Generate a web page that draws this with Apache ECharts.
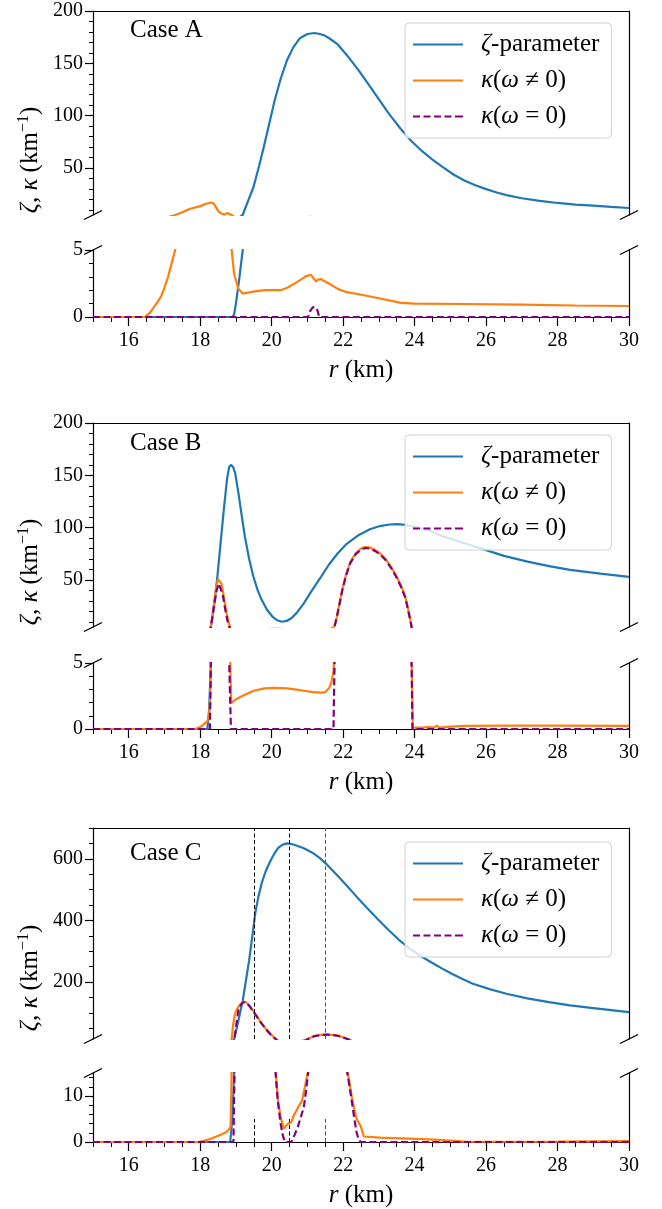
<!DOCTYPE html>
<html><head><meta charset="utf-8">
<script src="https://cdn.jsdelivr.net/npm/echarts@6/dist/echarts.min.js"></script>
<style>html,body{margin:0;padding:0;background:#fff}#c{width:662px;height:1209px}</style>
</head><body><div id="c"></div>
<script>
// ---------- tick values ----------
const xMajor = [16, 18, 20, 22, 24, 26, 28, 30];
const xMinor = [15, 15.5, 16.5, 17, 17.5, 18.5, 19, 19.5, 20.5, 21, 21.5, 22.5, 23, 23.5, 24.5, 25, 25.5, 26.5, 27, 27.5, 28.5, 29, 29.5];
const yMajorAB = [50, 100, 150, 200];
const yMinorAB = [10, 20, 30, 40, 60, 70, 80, 90, 110, 120, 130, 140, 160, 170, 180, 190];
const yLowMajorAB = [0, 5];
const yLowMinorAB = [1, 2, 3, 4];
const yMajorC = [200, 400, 600];
const yMinorC = [50, 100, 150, 250, 300, 350, 450, 500, 550, 650, 700];
const yLowMajorC = [0, 10];
const yLowMinorC = [2, 4, 6, 8, 12, 14];
const caseLabels = ['Case A', 'Case B', 'Case C'];
const vlinesC = [19.5, 20.5, 21.5];

// ---------- data: [r (km), value] ----------
const zetaA = [[15,0],[18.9,0],[18.95,0.2],[19.0,1.0],[19.1,3.0],[19.19,5],[19.3,15],[19.49,31.5],[19.65,52],[19.78,70],[19.93,92],[20.08,114],[20.25,135],[20.43,153],[20.6,165],[20.79,174],[21.0,178],[21.2,179],[21.35,178],[21.49,176.5],[21.65,173],[21.85,168],[22.1,158],[22.44,143],[22.75,128],[23.03,114],[23.3,101],[23.62,87],[23.9,76],[24.21,66],[24.5,58],[24.8,50.5],[25.1,43.5],[25.39,38],[25.7,33.5],[25.98,30],[26.3,26.5],[26.57,24],[27.0,21],[27.5,18.5],[28.0,16.5],[28.5,15],[29.0,14],[29.5,12.8],[30,11.7]];
const kappaA = [[15,0],[16.45,0],[16.6,0.35],[16.75,0.9],[16.9,1.5],[17.0,2.2],[17.1,3.0],[17.2,4.0],[17.3,5.0],[17.45,7],[17.7,10.7],[18.0,13.5],[18.15,15.5],[18.3,17],[18.38,16],[18.45,12],[18.52,8],[18.6,6.5],[18.68,5.3],[18.75,6.8],[18.82,6],[18.88,5],[18.95,3.2],[19.07,2.1],[19.19,1.75],[19.49,1.9],[19.8,2.0],[20.25,2.0],[20.45,2.2],[20.67,2.55],[20.85,2.85],[20.96,3.05],[21.1,3.15],[21.15,3.25],[21.24,2.65],[21.3,2.8],[21.38,2.82],[21.6,2.5],[21.85,2.1],[22.1,1.85],[22.44,1.7],[23.0,1.4],[23.62,1.05],[24.0,1.0],[25.4,0.97],[27.0,0.92],[28.5,0.86],[30,0.82]];
const kappa0A = [[15,0],[21.02,0],[21.08,0.45],[21.15,0.72],[21.22,0.75],[21.28,0.5],[21.33,0],[30,0]];

const zetaB = [[15,0],[18.2,0],[18.25,1.5],[18.3,5],[18.4,28],[18.48,53],[18.57,85],[18.66,117],[18.75,146],[18.81,158],[18.86,160],[18.92,158],[18.98,152],[19.07,133],[19.16,112],[19.25,91.5],[19.37,70],[19.49,53],[19.6,41],[19.72,31],[19.87,21.5],[20.02,15],[20.15,11.5],[20.29,10],[20.42,10.8],[20.55,13.3],[20.7,18.5],[20.9,27.6],[21.1,38.5],[21.38,53],[21.6,64.5],[21.85,75.5],[22.1,84.5],[22.44,93],[22.75,98.5],[23.03,101.5],[23.3,103],[23.5,103.3],[23.75,102.6],[23.97,101],[24.4,97.5],[24.8,91.5],[25.4,85],[25.98,78.7],[26.5,73],[27.16,67.5],[27.8,63],[28.35,59.6],[29.2,56],[30,53]];
const kappaB = [[15,0],[17.85,0],[18.0,0.15],[18.1,0.35],[18.2,0.6],[18.25,0.9],[18.28,2.5],[18.32,10],[18.38,26],[18.44,42],[18.5,51],[18.55,52],[18.6,46],[18.67,32],[18.74,18],[18.8,9],[18.85,4],[18.87,1.95],[19.0,2.25],[19.25,2.6],[19.5,2.9],[19.8,3.08],[20.1,3.12],[20.43,3.08],[20.7,2.98],[20.9,2.9],[21.15,2.8],[21.38,2.75],[21.5,2.8],[21.61,3.1],[21.68,3.6],[21.73,4.4],[21.76,6],[21.82,14],[21.9,28],[21.97,40],[22.08,55],[22.2,67],[22.35,75.5],[22.5,80],[22.62,81.5],[22.75,81],[22.9,78.5],[23.03,75.5],[23.2,69.5],[23.35,62],[23.5,53],[23.62,44.5],[23.74,34],[23.82,22],[23.88,12],[23.92,5],[23.95,0.1],[24.2,0.1],[24.4,0.15],[24.55,0.12],[24.62,0.25],[24.7,0.1],[25.0,0.18],[25.4,0.24],[26.5,0.25],[28,0.26],[30,0.24]];
const kappa0B = [[15,0],[18.27,0],[18.29,3],[18.33,12],[18.4,28],[18.46,40],[18.52,46.5],[18.57,45],[18.63,36],[18.7,22],[18.77,10],[18.83,3],[18.86,0],[21.73,0],[21.76,5],[21.82,14],[21.9,27],[21.97,39],[22.08,54],[22.2,66],[22.35,74.5],[22.5,79],[22.62,80.5],[22.75,80],[22.9,77.5],[23.03,74.5],[23.2,68.5],[23.35,61],[23.5,52],[23.62,43.5],[23.74,33],[23.82,21],[23.88,11],[23.92,4],[23.94,0],[30,0]];

const zetaC = [[15,0],[18.84,0],[18.9,5],[18.95,15],[19.07,75],[19.19,140],[19.28,205],[19.37,271],[19.46,350],[19.54,423],[19.63,478],[19.72,521],[19.84,562],[19.96,592],[20.08,618],[20.19,636],[20.31,646],[20.43,650],[20.55,648],[20.67,644],[20.9,634],[21.14,620],[21.35,602],[21.55,581],[21.8,551],[22.08,516],[22.37,478],[22.67,440],[22.97,404],[23.27,369],[23.56,337],[23.86,309],[24.15,286],[24.45,265],[24.75,245],[25.04,227],[25.34,210],[25.63,194.5],[26.1,177],[26.57,162],[27.15,147],[27.76,134.6],[28.35,124],[28.94,116],[29.5,109],[30,102]];
const kappaC = [[15,0],[17.95,0],[18.1,0.25],[18.3,0.7],[18.54,1.45],[18.7,2.0],[18.78,2.5],[18.85,3.3],[18.88,15],[18.92,60],[18.97,95],[19.01,107],[19.1,125],[19.22,137],[19.3,133],[19.37,124],[19.48,106],[19.6,86],[19.72,66],[19.84,47.4],[19.96,32],[20.08,19],[20.17,9.5],[20.25,5.4],[20.34,2.9],[20.42,3.7],[20.49,4.1],[20.55,4.3],[20.62,5.8],[20.67,6.5],[20.76,7.8],[20.85,9],[20.93,12],[21.02,15.5],[21.2,25],[21.38,28.5],[21.55,29.5],[21.7,28.5],[21.85,26],[22.0,20.5],[22.13,15],[22.25,9.5],[22.33,6.5],[22.38,5],[22.45,4],[22.5,3.3],[22.58,1.2],[23.03,0.95],[24.03,0.7],[24.7,0.45],[25.4,0.1],[26.5,0.05],[28,0.1],[30,0.2]];
const kappa0C = [[15,0],[18.93,0],[18.96,15],[19.02,70],[19.07,110],[19.15,128],[19.22,135],[19.3,132],[19.37,123],[19.48,105],[19.6,85],[19.72,65],[19.84,46.5],[19.96,31],[20.08,18],[20.17,9],[20.25,4],[20.31,1.5],[20.37,0],[20.55,0],[20.64,1.5],[20.73,3.3],[20.82,5.5],[20.9,7.6],[20.96,11],[21.02,15],[21.2,24.5],[21.38,28],[21.55,29],[21.7,28],[21.85,25.5],[22.0,20],[22.14,14],[22.24,9],[22.32,4.7],[22.38,2],[22.44,0.4],[22.5,0],[30,0]];

// ---------- layout ----------
const FONT = '"Liberation Serif", "DejaVu Serif", serif';
const BIG = 25;
const L = 93, R = 629, W = R - L;
const panels = [
  {uTop: 11,  uH: 204, lTop: 250,  lH: 67, uMin: 5,  uMax: 200, lMax: 5,  uMaj: yMajorAB, uMinT: yMinorAB, lMaj: yLowMajorAB, lMinT: yLowMinorAB, zeta: zetaA, k: kappaA, k0: kappa0A, caseY: 30, legTop: 23, ylabY: 160},
  {uTop: 423, uH: 204, lTop: 663,  lH: 66, uMin: 5,  uMax: 200, lMax: 5,  uMaj: yMajorAB, uMinT: yMinorAB, lMaj: yLowMajorAB, lMinT: yLowMinorAB, zeta: zetaB, k: kappaB, k0: kappa0B, caseY: 443, legTop: 435, ylabY: 572},
  {uTop: 828, uH: 211, lTop: 1073, lH: 69, uMin: 15, uMax: 700, lMax: 15, uMaj: yMajorC, uMinT: yMinorC, lMaj: yLowMajorC, lMinT: yLowMinorC, zeta: zetaC, k: kappaC, k0: kappa0C, caseY: 853, legTop: 842, ylabY: 978}
];

const BLUE = '#1f77b4', ORANGE = '#ff7f0e', PURPLE = '#800080';
const LW = 2.2;
const blk = {color: '#000', width: 1.2};
const lblStyle = {fontSize: 20, fontFamily: FONT, color: '#000'};

const opt = {animation: false, grid: [], xAxis: [], yAxis: [], series: [], legend: [], graphic: []};

function yPair(grid, min, max, maj, minT) {
  const idx = opt.yAxis.length;
  opt.yAxis.push({gridIndex: grid, type: 'value', position: 'left', min, max,
    axisLine: {show: true, onZero: false, lineStyle: blk},
    axisTick: {show: true, customValues: maj, length: 8, lineStyle: blk},
    axisLabel: Object.assign({customValues: maj, margin: 10}, lblStyle),
    splitLine: {show: false}});
  opt.yAxis.push({gridIndex: grid, type: 'value', position: 'left', min, max,
    axisLine: {show: false}, axisTick: {show: true, customValues: minT, length: 4, lineStyle: {color: '#000', width: 1}},
    axisLabel: {show: false}, splitLine: {show: false}});
  opt.yAxis.push({gridIndex: grid, type: 'value', position: 'right', min, max,
    axisLine: {show: true, onZero: false, lineStyle: blk}, axisTick: {show: false},
    axisLabel: {show: false}, splitLine: {show: false}});
  return idx;
}

const legendNames = ['zeta', 'kneq', 'keq'];
const legendText = {
  zeta: '{it|ζ}-parameter',
  kneq: '{it|κ}({it|ω} ≠ 0)',
  keq: '{it|κ}({it|ω} = 0)'
};
const solidIcon = 'path://M0,0H50V2.2H0Z';
const dashIcon = 'path://M0,0h7v2.2h-7zM10.5,0h7v2.2h-7zM21,0h7v2.2h-7zM31.5,0h7v2.2h-7zM42,0h8v2.2h-8z';

panels.forEach((p, i) => {
  const gu = opt.grid.length;
  opt.grid.push({left: L, top: p.uTop, width: W, height: p.uH});
  const gl = gu + 1;
  opt.grid.push({left: L, top: p.lTop, width: W, height: p.lH});

  const xu = opt.xAxis.length;
  opt.xAxis.push({gridIndex: gu, type: 'value', position: 'top', min: 15, max: 30,
    axisLine: {show: true, onZero: false, lineStyle: blk}, axisTick: {show: false},
    axisLabel: {show: false}, splitLine: {show: false}});
  const xl = opt.xAxis.length;
  opt.xAxis.push({gridIndex: gl, type: 'value', position: 'bottom', min: 15, max: 30,
    axisLine: {show: true, onZero: false, lineStyle: blk},
    axisTick: {show: true, customValues: xMajor, length: 9, lineStyle: blk},
    axisLabel: Object.assign({customValues: xMajor, margin: 14}, lblStyle),
    splitLine: {show: false},
    name: '{it|r} (km)', nameLocation: 'middle', nameGap: 41,
    nameTextStyle: {fontSize: BIG, fontFamily: FONT, color: '#000',
      rich: {it: {fontStyle: 'italic', fontSize: BIG, fontFamily: FONT, color: '#000'}}}});
  opt.xAxis.push({gridIndex: gl, type: 'value', position: 'bottom', min: 15, max: 30,
    axisLine: {show: false}, axisTick: {show: true, customValues: xMinor, length: 5, lineStyle: {color: '#000', width: 1}},
    axisLabel: {show: false}, splitLine: {show: false}});

  const yu = yPair(gu, p.uMin, p.uMax, p.uMaj, p.uMinT);
  const yl = yPair(gl, 0, p.lMax, p.lMaj, p.lMinT);

  [[xu, yu], [xl, yl]].forEach(([xi, yi], part) => {
    const zs = {name: 'zeta', type: 'line', xAxisIndex: xi, yAxisIndex: yi, data: p.zeta, symbol: 'none',
      lineStyle: {color: BLUE, width: LW}, itemStyle: {color: BLUE}, z: 2};
    if (i === 2) {
      zs.markLine = {symbol: 'none', silent: true, label: {show: false},
        lineStyle: {type: [4, 2.5], width: 1, color: '#000'},
        data: part === 0
          ? vlinesC.map((x, j) => ({xAxis: x, lineStyle: {color: j === 2 ? '#555' : '#000', type: [4, 2.5], width: 1}}))
          : vlinesC.map((x, j) => [{coord: [x, 0], lineStyle: {color: j === 2 ? '#555' : '#000', type: [4, 2.5], width: 1}}, {coord: [x, 5]}])};
    }
    opt.series.push(zs);
    opt.series.push({name: 'kneq', type: 'line', xAxisIndex: xi, yAxisIndex: yi, data: p.k, symbol: 'none',
      lineStyle: {color: ORANGE, width: LW}, itemStyle: {color: ORANGE}, z: 3});
    opt.series.push({name: 'keq', type: 'line', xAxisIndex: xi, yAxisIndex: yi, data: p.k0, symbol: 'none',
      lineStyle: {color: PURPLE, width: LW, type: [7, 3.5]}, itemStyle: {color: PURPLE}, z: 4});
  });

  opt.legend.push({orient: 'vertical', left: 405, top: p.legTop, itemWidth: 50, itemHeight: 2.2, itemGap: 11,
    padding: [9, 12, 9, 8], backgroundColor: 'rgba(255,255,255,0.8)', borderColor: '#d0d0d0', borderWidth: 1,
    borderRadius: 4, selectedMode: false,
    data: [{name: 'zeta', icon: solidIcon}, {name: 'kneq', icon: solidIcon}, {name: 'keq', icon: dashIcon}],
    formatter: n => legendText[n],
    textStyle: {fontSize: BIG, fontFamily: FONT, color: '#000', padding: [0, 0, 0, 13],
      rich: {it: {fontStyle: 'italic', fontSize: BIG, fontFamily: FONT, color: '#000'}}}});

  // case label
  opt.graphic.push({type: 'text', x: 130, y: p.caseY, z: 10,
    style: {text: caseLabels[i], fontSize: BIG, fontFamily: FONT, fill: '#000', verticalAlign: 'middle'}});
  // y label
  opt.graphic.push({type: 'text', x: 30, y: p.ylabY, rotation: Math.PI / 2, z: 10,
    style: {text: '{it|ζ}, {it|κ} (km{sup|−1})', fontSize: BIG, fontFamily: FONT, fill: '#000',
      align: 'center', verticalAlign: 'middle',
      rich: {it: {fontStyle: 'italic', fontSize: BIG, fontFamily: FONT}, sup: {fontSize: 16, fontFamily: FONT, verticalAlign: 'top', lineHeight: 28}}}});
  // break marks
  const bU = p.uTop + p.uH;
  [[L, bU], [R, bU], [L, p.lTop], [R, p.lTop]].forEach(([cx, cy]) => {
    opt.graphic.push({type: 'line', z: 10, shape: {x1: cx - 9, y1: cy + 4.5, x2: cx + 9, y2: cy - 4.5},
      style: {stroke: '#000', lineWidth: 1.3}});
  });
});

const chart = echarts.init(document.getElementById('c'), null, {renderer: 'canvas'});
chart.setOption(opt);
</script></body></html>
